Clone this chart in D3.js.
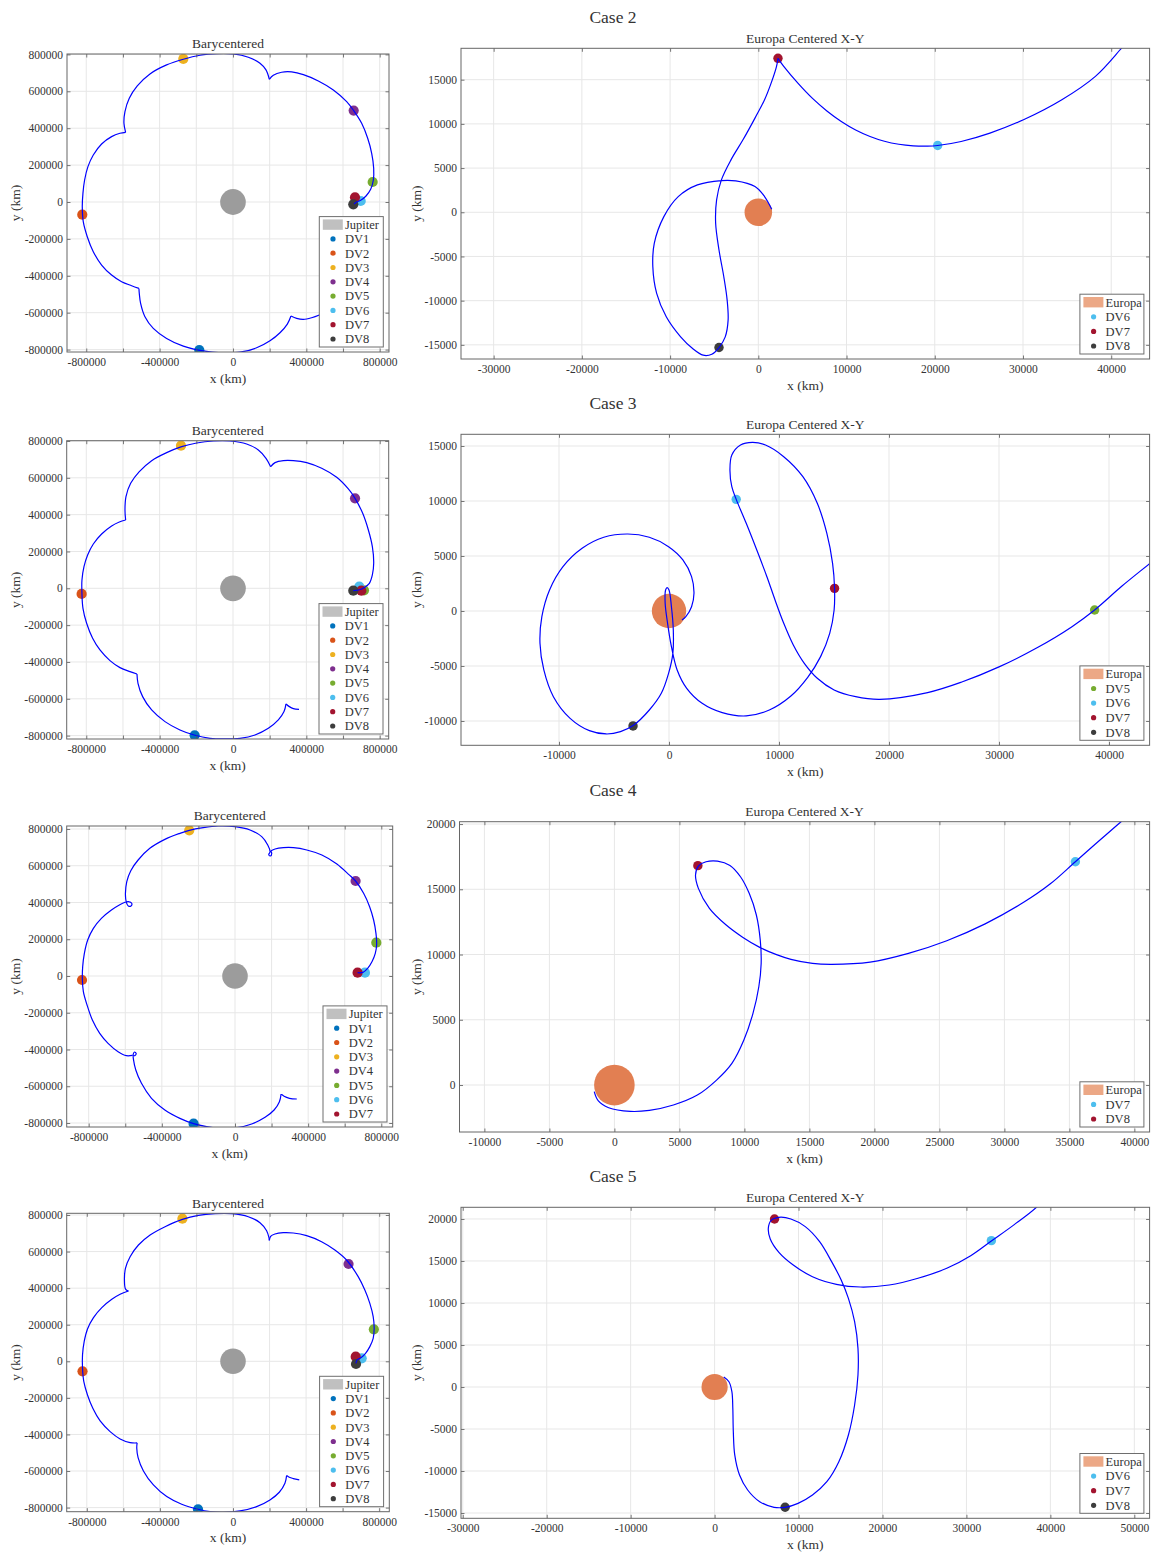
<!DOCTYPE html>
<html>
<head>
<meta charset="utf-8">
<script src="https://cdn.jsdelivr.net/npm/d3@7/dist/d3.min.js"></script>
<style>
  body { margin: 0; background: #fff; }
  svg { display: block; }
  text { font-family: "Liberation Serif", "Times New Roman", serif; fill: #333; }
</style>
</head>
<body>
<svg id="chart" width="1151" height="1552"></svg>
<script>
// ---------------- data ----------------
const caseTitles = ["Case 2", "Case 3", "Case 4", "Case 5"];

// axis limits (km)
const baryXLim = [[-905000, 850700], [-906800, 849000], [-920300, 862300], [-910000, 855300]];
const baryYLim = [[-813000, 802200], [-818400, 801600], [-821700, 816300], [-822400, 809300]];
const europaXLim = [[-33700, 44350], [-18910, 43690], [-11915, 41170], [-30210, 51820]];
const europaYLim = [[-16600, 18550], [-12210, 16064], [-3600, 20180], [-15630, 21390]];

// ticks
const baryTicks = [-800000, -600000, -400000, -200000, 0, 200000, 400000, 600000, 800000];
const baryXTickLabels = [-800000, -400000, 0, 400000, 800000];
const europaXTicks = [
  [-30000, -20000, -10000, 0, 10000, 20000, 30000, 40000],
  [-10000, 0, 10000, 20000, 30000, 40000],
  [-10000, -5000, 0, 5000, 10000, 15000, 20000, 25000, 30000, 35000, 40000],
  [-30000, -20000, -10000, 0, 10000, 20000, 30000, 40000, 50000]
];
const europaYTicks = [
  [-15000, -10000, -5000, 0, 5000, 10000, 15000],
  [-10000, -5000, 0, 5000, 10000, 15000],
  [0, 5000, 10000, 15000, 20000],
  [-15000, -10000, -5000, 0, 5000, 10000, 15000, 20000]
];

// body radii (km)
const jupiterRadius = 69911;
const europaRadius = 1561;

// ---- barycentered trajectories, split at the cusps ----
const case2BaryArcs = [
  [[474500,-611100],[429000,-627400],[383600,-636400],[347200,-631000],[316300,-618300]],
  [[316300,-618300],[296300,-661700],[256300,-708700],[201800,-752100],[129100,-790100],[38200,-813600],[-52700,-817200],[-143600,-810000],[-270900,-781100],[-361800,-739500],[-434500,-685200],[-480000,-622000],[-503600,-549600],[-510900,-495400],[-512700,-468300]],
  [[-512700,-468300],[-552700,-453800],[-607200,-432100],[-661800,-396000],[-716300,-341700],[-761700,-269400],[-794500,-188000],[-816300,-106700],[-821700,-25300],[-818100,47000],[-809000,119300],[-790800,191600],[-761700,254900],[-716300,314600],[-661800,354400],[-616300,372400],[-585400,377900]],
  [[-585400,377900],[-594500,426700],[-589000,490000],[-565400,562300],[-521800,629200],[-452700,694300],[-361800,743100],[-270900,773800],[-180000,795500],[-89100,804600],[1800,802800],[83600,784700],[147300,752100],[180000,716000],[198200,665300]],
  [[198200,665300],[220000,687000],[265400,703300],[320000,705100],[383600,690700],[465400,656300],[547200,607500],[619900,544200],[658100,495400],[701700,426700],[734500,345300],[756300,264000],[767200,182600],[765400,119300],[750800,68700],[725400,32500],[696300,9000],[674500,0],[659900,-10800]]
];
const case3BaryArcs = [
  [[360000,-657000],[329100,-653400],[307200,-642600],[289100,-628100]],
  [[289100,-628100],[278200,-669700],[247200,-715000],[192700,-760200],[120000,-796400],[38200,-814500],[-52700,-818100],[-125400,-814500],[-207300,-798200],[-289100,-769300],[-370900,-724000],[-443600,-660700],[-492700,-588300],[-518100,-515900],[-523600,-465200]],
  [[-523600,-465200],[-561800,-452500],[-616300,-430800],[-670800,-392800],[-725400,-334900],[-765400,-271500],[-798100,-190100],[-818100,-108600],[-823600,-30800],[-823600,45300],[-812600,117700],[-792600,181000],[-761700,240700],[-716300,295000],[-661800,338500],[-619900,360200],[-585400,371100]],
  [[-585400,371100],[-589000,425400],[-583600,497800],[-558100,570200],[-510900,633500],[-443600,693200],[-361800,736700],[-280000,769300],[-198200,789200],[-107300,800000],[-16400,800000],[74500,783700],[138200,751200],[180000,705900],[205400,660700]],
  [[205400,660700],[229100,682400],[274500,693200],[329100,693200],[401800,682400],[483600,651600],[565400,602700],[629000,539400],[665400,488700],[707200,407300],[738100,316800],[759900,226300],[767200,135800],[759900,72400],[743600,27200],[714500,3600],[690000,-8000],[656000,-13000]]
];
const case4BaryArcs = [
  [[337900,-669400],[297700,-665700],[268500,-654900],[252100,-642200]],
  [[252100,-642200],[242900,-683900],[213700,-729200],[164400,-769100],[91300,-805400],[9100,-825400],[-73100,-829000],[-155300,-819900],[-226500,-803600],[-301400,-774600],[-383600,-729200],[-456600,-665700],[-511400,-584100],[-542500,-511500],[-555300,-453500],[-557100,-428100],[-549800,-413600],[-540600,-420800],[-548000,-433500],[-560700,-431700]],
  [[-560700,-431700],[-593600,-433500],[-639300,-411800],[-694100,-366400],[-739700,-312000],[-779900,-239400],[-809100,-157800],[-829200,-85300],[-834700,-18100],[-832900,50800],[-823700,123400],[-805500,195900],[-774400,259400],[-730600,313800],[-675800,359200],[-630100,388200],[-601500,401100],[-583400,404300],[-564800,395600],[-568700,380900],[-583400,380900],[-592200,395600],[-597700,419000]],
  [[-597700,419000],[-599100,449900],[-591800,513400],[-569900,573200],[-529700,631300],[-465800,694800],[-383600,743700],[-301400,776400],[-250200,792700],[-173500,807200],[-91300,816300],[0,812700],[82200,794500],[146100,758300],[179000,712900],[191800,676600],[184500,660300],[193600,653000],[200900,667600],[195400,680300]],
  [[195400,680300],[219200,691100],[264800,698400],[319600,698400],[392700,685700],[474900,658500],[557100,609500],[621000,553300],[659400,517000],[703200,449900],[736100,377300],[758000,304800],[770800,232200],[774400,168700],[767100,123400],[748900,78000],[725100,41700],[699500,20000],[670300,18100]]
];
const case5BaryArcs = [
  [[362600,-648600],[329800,-641300],[307900,-634100],[293300,-624900]],
  [[293300,-624900],[284200,-666900],[253300,-716000],[202200,-758000],[129400,-794400],[38300,-818100],[-52800,-825400],[-125700,-821700],[-191300,-809000],[-280600,-781600],[-362600,-739700],[-435500,-676000],[-490100,-599400],[-519300,-526600],[-526600,-475500],[-524700,-446400]],
  [[-524700,-446400],[-563000,-444600],[-617700,-424500],[-672300,-384400],[-727000,-326100],[-767100,-256900],[-796200,-184000],[-816300,-111100],[-823500,-38300],[-823500,34600],[-814400,107500],[-796200,176700],[-763400,238700],[-717900,293300],[-663200,338900],[-617700,366200],[-572100,384400]],
  [[-572100,384400],[-588000,395000],[-594000,444600],[-588500,508300],[-563000,572100],[-517400,635900],[-453700,690500],[-371700,736100],[-276900,776200],[-189500,798000],[-98400,807100],[-7300,807100],[83800,790700],[147600,758000],[184000,714200],[196800,676000],[198600,661400]],
  [[198600,661400],[205900,683300],[229600,696000],[275100,703300],[329800,701500],[402700,686900],[484700,654100],[557500,608500],[621300,553900],[685100,462800],[721500,389900],[748800,317000],[767100,244100],[772500,180400],[767100,125700],[748800,80200],[725200,43700],[703300,21900],[679600,7300],[672300,-10900]]
];

// ---- barycentered manoeuvre locations [label, x, y] ----
const case2BaryDV = [["DV1",-183600,-802800],["DV2",-821700,-68700],["DV3",-270900,775600],["DV4",658100,495400],["DV5",761700,108500],["DV6",696300,5400],["DV7",665300,25500],["DV8",656000,-12500]];
const case3BaryDV = [["DV1",-209100,-798200],["DV2",-825400,-30800],["DV3",-283600,774700],["DV4",665400,488700],["DV5",714300,-10900],["DV6",688700,8700],["DV7",699600,-13000],["DV8",656000,-13000]];
const case4BaryDV = [["DV1",-226500,-803600],["DV2",-836500,-21800],["DV3",-250200,792700],["DV4",659400,517000],["DV5",772600,181400],["DV6",710500,18100],["DV7",670300,18100]];
const case5BaryDV = [["DV1",-191300,-809000],["DV2",-823500,-54700],["DV3",-276900,779800],["DV4",632200,532000],["DV5",770700,174900],["DV6",704200,16400],["DV7",671400,25200],["DV8",673100,-14800]];

// ---- Europa-centred trajectories ----
const case2EuropaArcs = [
  [[1522,340],[707,1776],[-380,2909],[-2554,3551],[-4185,3589],[-6902,3098],[-9076,1776],[-10707,-491],[-11794,-3514],[-11957,-6158],[-11522,-9181],[-10435,-11825],[-8805,-14092],[-7446,-15414],[-6250,-16170],[-5272,-16057],[-4457,-15301],[-3750,-14092],[-3424,-12203],[-3533,-9936],[-3913,-7292],[-4457,-4269],[-4837,-1247],[-4728,1398],[-4185,3665],[-3098,5931],[-1739,8198],[-380,10654],[707,12732],[1522,14810],[2065,16510],[2228,17417]],
  [[2228,17417],[2881,16510],[4511,14583],[6142,12883],[7772,11466],[9403,10276],[11033,9313],[12664,8576],[14294,8032],[15925,7692],[17555,7522],[19186,7488],[20327,7556],[22990,8009],[26251,8954],[30055,10465],[34404,12732],[38208,15376],[41197,18588],[42300,19800]]
];
const case3EuropaArcs = [
  [[45000,5400],[43710,4330],[41180,2270],[38690,90],[36600,-1450],[33540,-3300],[30050,-5060],[26560,-6480],[23510,-7420],[19150,-8030],[16970,-7790],[15010,-7180],[13480,-6120],[12300,-4760],[11300,-3090],[10430,-1120],[9640,1000],[8900,3120],[7980,5540],[7020,7970],[6110,10150],[5710,11300],[5540,12820],[5710,14180],[6500,15090],[7590,15330],[8770,15090],[10430,14030],[12170,12210],[13480,9790],[14350,7060],[14870,4330],[15050,2060],[15010,90],[14610,-2030],[13780,-4150],[12610,-6030],[11080,-7730],[9120,-9000],[7020,-9540],[4840,-9240],[3010,-8390],[1610,-7030],[740,-5360],[220,-3240],[-130,-1120],[-350,700],[-310,1910],[-170,2120],[0,1910],[220,390],[390,-1730],[350,-3850],[-40,-5670],[-700,-7480],[-1790,-9000],[-3230,-10390],[-4410,-10970],[-5710,-11180],[-7240,-10880],[-8990,-9760],[-10510,-7790],[-11380,-5360],[-11730,-2940],[-11560,-520],[-10860,1910],[-9640,4030],[-7900,5700],[-5930,6700],[-3750,7000],[-1790,6700],[-40,5850],[1260,4640],[2050,3120],[2270,1610],[2050,390],[1530,-520],[1180,-820]]
];
const case4EuropaArcs = [
  [[-1550,-510],[-1250,-1200],[-440,-1740],[1220,-2020],[2690,-1940],[4540,-1530],[6380,-770],[7860,380],[9040,1660],[9960,3450],[10660,5490],[11110,7530],[11290,9320],[11220,11110],[10920,13030],[10370,14690],[9700,15960],[8890,16830],[7930,17160],[7050,17110],[6460,16780],[6240,16090],[6460,15070],[7310,13540],[8600,12260],[9890,11310],[11180,10550],[12470,9990],[13580,9630],[15240,9320],[16720,9250],[19670,9420],[22620,10090],[25570,11060],[28520,12350],[31480,14000],[33510,15400],[35460,17110],[37200,18640],[38970,20180],[39900,21000]]
];
const case5EuropaArcs = [
  [[1090,1190],[1710,630],[2060,-560],[2170,-2540],[2230,-5320],[2400,-8090],[2970,-10480],[3940,-12260],[5370,-13650],[7090,-14320],[8400,-14320],[9940,-13850],[11660,-12860],[13370,-11270],[14800,-8890],[15940,-5710],[16680,-2140],[17080,1430],[17080,4600],[16680,7780],[15940,10550],[15080,12740],[13940,14920],[12510,17300],[10800,19090],[9090,20000],[7660,20200],[6740,19840],[6400,18890],[6630,17620],[7660,16030],[9370,14520],[11660,13130],[14510,12220],[17370,11900],[20800,12140],[24230,12940],[27660,14130],[30510,15630],[32970,17380],[35660,19300],[38340,21390],[39500,22700]]
];

// ---- Europa-centred manoeuvre locations [label, x, y] ----
const case2EuropaDV = [["DV6",20327,7556],["DV7",2228,17417],["DV8",-4457,-15301]];
const case3EuropaDV = [["DV5",38690,90],["DV6",6110,10150],["DV7",15050,2060],["DV8",-3270,-10450]];
const case4EuropaDV = [["DV7",35460,17110],["DV8",6420,16810]];
const case5EuropaDV = [["DV6",32970,17420],["DV7",7140,20000],["DV8",8400,-14320]];

// colour-order slot used for each manoeuvre in the Europa panels
const europaColorSlots = [[5, 6, 7], [4, 5, 6, 7], [5, 6], [5, 6, 7]];

// ---------------- styling / layout ----------------
const palette = ["#0072BD", "#D95319", "#EDB120", "#7E2F8E", "#77AC30", "#4DBEEE", "#A2142F", "#3d3d3d"];
const jupiterFill = "#9c9c9c", jupiterLegend = "#c0c0c0";
const europaFill = "#e27f52", europaLegend = "#eca886";
const trajColor = "#0000ff";

const rows = [
  { bary: {x0: 67,   y0: 54,     x1: 389,   y1: 352},    eur: {x0: 461,   y0: 48.3,   x1: 1149.6, y1: 359} },
  { bary: {x0: 66.7, y0: 440.7,  x1: 388.7, y1: 739},    eur: {x0: 461,   y0: 434.3,  x1: 1149.6, y1: 745.3} },
  { bary: {x0: 66.7, y0: 826,    x1: 392.7, y1: 1127},   eur: {x0: 459.5, y0: 821.7,  x1: 1149.6, y1: 1132} },
  { bary: {x0: 66.7, y0: 1213.3, x1: 389.3, y1: 1511.7}, eur: {x0: 461,   y0: 1207.3, x1: 1149.6, y1: 1518.3} }
];

const svg = d3.select("#chart");
let clipId = 0;

function drawPanel(opt) {
  const b = opt.box;
  const x = d3.scaleLinear().domain(opt.xDom).range([b.x0, b.x1]);
  const y = d3.scaleLinear().domain(opt.yDom).range([b.y1, b.y0]);
  const g = svg.append("g");

  const cid = "clip" + (clipId++);
  g.append("clipPath").attr("id", cid).append("rect")
    .attr("x", b.x0).attr("y", b.y0).attr("width", b.x1 - b.x0).attr("height", b.y1 - b.y0);

  // grid
  const grid = g.append("g").attr("stroke", "#e7e7e7").attr("stroke-width", 1);
  grid.selectAll("line.gx").data(opt.xTicks).join("line").attr("class", "gx")
    .attr("x1", d => x(d)).attr("x2", d => x(d)).attr("y1", b.y0).attr("y2", b.y1);
  grid.selectAll("line.gy").data(opt.yTicks).join("line").attr("class", "gy")
    .attr("y1", d => y(d)).attr("y2", d => y(d)).attr("x1", b.x0).attr("x2", b.x1);

  const plot = g.append("g").attr("clip-path", `url(#${cid})`);

  // central body
  plot.append("ellipse")
    .attr("cx", x(0)).attr("cy", y(0))
    .attr("rx", x(opt.bodyR) - x(0)).attr("ry", y(0) - y(opt.bodyR))
    .attr("fill", opt.bodyFill);

  // manoeuvre markers
  plot.selectAll("circle.dv").data(opt.dvs).join("circle").attr("class", "dv")
    .attr("cx", d => x(d[1])).attr("cy", d => y(d[2]))
    .attr("r", opt.markerR)
    .attr("fill", (d, i) => palette[opt.slots[i]]);

  // trajectory
  const line = d3.line().x(p => x(p[0])).y(p => y(p[1])).curve(d3.curveCatmullRom.alpha(0.5));
  plot.selectAll("path.traj").data(opt.arcs).join("path").attr("class", "traj")
    .attr("d", line).attr("fill", "none").attr("stroke", trajColor).attr("stroke-width", 1.2)
    .attr("stroke-linejoin", "round");

  // axes (ticks point inward on all four sides)
  const fmtX = d => (opt.xLabels.includes(d) ? String(d) : "");
  const fmtY = d => String(d);
  const axB = g.append("g").attr("transform", `translate(0,${b.y1})`)
    .call(d3.axisBottom(x).tickValues(opt.xTicks).tickSizeInner(-3.5).tickSizeOuter(0).tickPadding(6).tickFormat(fmtX));
  const axL = g.append("g").attr("transform", `translate(${b.x0},0)`)
    .call(d3.axisLeft(y).tickValues(opt.yTicks).tickSizeInner(-3.5).tickSizeOuter(0).tickPadding(4).tickFormat(fmtY));
  const axT = g.append("g").attr("transform", `translate(0,${b.y0})`)
    .call(d3.axisTop(x).tickValues(opt.xTicks).tickSizeInner(-3.5).tickSizeOuter(0).tickFormat(""));
  const axR = g.append("g").attr("transform", `translate(${b.x1},0)`)
    .call(d3.axisRight(y).tickValues(opt.yTicks).tickSizeInner(-3.5).tickSizeOuter(0).tickFormat(""));
  [axB, axL, axT, axR].forEach(a => {
    a.select(".domain").remove();
    a.selectAll(".tick line").attr("stroke", "#555").attr("stroke-width", 0.8);
    a.selectAll(".tick text").attr("fill", "#333").style("font-size", "11.5px")
      .style("font-family", '"Liberation Serif", serif');
  });

  // box
  g.append("rect").attr("x", b.x0).attr("y", b.y0).attr("width", b.x1 - b.x0).attr("height", b.y1 - b.y0)
    .attr("fill", "none").attr("stroke", "#666").attr("stroke-width", 1);

  // title and axis labels
  g.append("text").attr("x", (b.x0 + b.x1) / 2).attr("y", b.y0 - 10.4).attr("dy", "0.35em")
    .attr("text-anchor", "middle").style("font-size", "13.5px").text(opt.title);
  g.append("text").attr("x", (b.x0 + b.x1) / 2).attr("y", b.y1 + 26).attr("dy", "0.35em")
    .attr("text-anchor", "middle").style("font-size", "13.5px").text("x (km)");
  g.append("text").attr("transform", `translate(${opt.yLabelX},${(b.y0 + b.y1) / 2}) rotate(-90)`)
    .attr("dy", "0.35em").attr("text-anchor", "middle").style("font-size", "13.5px").text("y (km)");

  // legend
  const items = [{label: opt.bodyName, patch: opt.bodyLegend}]
    .concat(opt.dvs.map((d, i) => ({label: d[0], color: palette[opt.slots[i]]})));
  const step = opt.legendStep, lw = 64;
  const lh = 16 + (items.length - 1) * step;
  const lx = b.x1 - 5.7 - lw, ly = b.y1 - 5 - lh;
  const lg = g.append("g");
  lg.append("rect").attr("x", lx).attr("y", ly).attr("width", lw).attr("height", lh)
    .attr("fill", "#fff").attr("stroke", "#6e6e6e").attr("stroke-width", 1);
  items.forEach((it, i) => {
    const cy = ly + 8 + i * step;
    if (it.patch) {
      lg.append("rect").attr("x", lx + 3.5).attr("y", cy - 5.2).attr("width", 20).attr("height", 10.4).attr("fill", it.patch);
    } else {
      lg.append("circle").attr("cx", lx + 13.7).attr("cy", cy).attr("r", 2.6).attr("fill", it.color);
    }
    lg.append("text").attr("x", lx + 25.7).attr("y", cy).attr("dy", "0.35em")
      .style("font-size", "12.5px").text(it.label);
  });
}

const baryArcs = [case2BaryArcs, case3BaryArcs, case4BaryArcs, case5BaryArcs];
const baryDV = [case2BaryDV, case3BaryDV, case4BaryDV, case5BaryDV];
const europaArcs = [case2EuropaArcs, case3EuropaArcs, case4EuropaArcs, case5EuropaArcs];
const europaDV = [case2EuropaDV, case3EuropaDV, case4EuropaDV, case5EuropaDV];

rows.forEach((row, k) => {
  // case heading
  svg.append("text").attr("x", 613).attr("y", row.eur.y0 - 31.5).attr("dy", "0.35em")
    .attr("text-anchor", "middle").style("font-size", "17.5px").text(caseTitles[k]);

  drawPanel({
    box: row.bary, xDom: baryXLim[k], yDom: baryYLim[k],
    xTicks: baryTicks, xLabels: baryXTickLabels, yTicks: baryTicks,
    title: "Barycentered", arcs: baryArcs[k], dvs: baryDV[k],
    slots: baryDV[k].map((d, i) => i),
    bodyR: jupiterRadius, bodyFill: jupiterFill, bodyName: "Jupiter", bodyLegend: jupiterLegend,
    markerR: 5.1, yLabelX: 15, legendStep: 14.3
  });

  drawPanel({
    box: row.eur, xDom: europaXLim[k], yDom: europaYLim[k],
    xTicks: europaXTicks[k], xLabels: europaXTicks[k], yTicks: europaYTicks[k],
    title: "Europa Centered X-Y", arcs: europaArcs[k], dvs: europaDV[k],
    slots: europaColorSlots[k],
    bodyR: europaRadius, bodyFill: europaFill, bodyName: "Europa", bodyLegend: europaLegend,
    markerR: 4.7, yLabelX: 416, legendStep: 14.6
  });
});
</script>
</body>
</html>
